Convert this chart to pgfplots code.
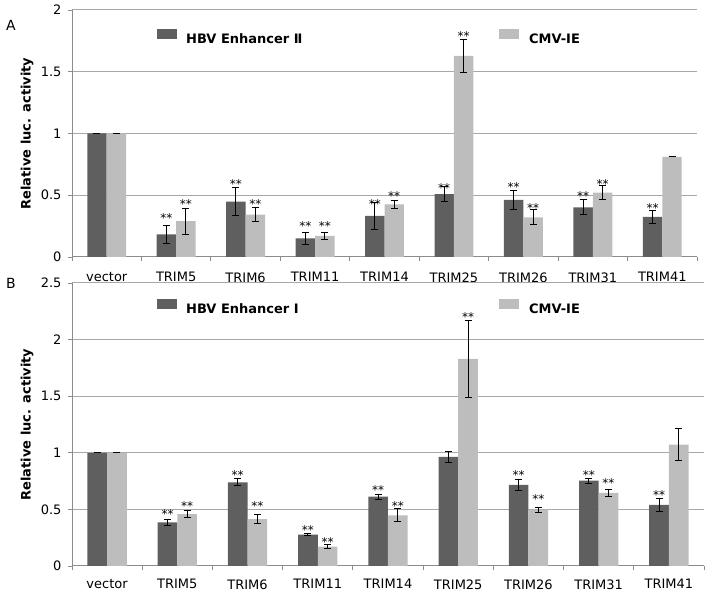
\documentclass[border=0pt]{standalone}
\usepackage{pgfplots}
\usepackage{pgfplotstable}
\pgfplotsset{compat=1.18}
\usepackage{fontspec}
\setmainfont{DejaVu Sans}
\definecolor{darkbar}{RGB}{95,95,95}
\definecolor{lightbar}{RGB}{189,189,189}
\definecolor{gridc}{RGB}{168,168,168}
\definecolor{axisc}{RGB}{140,140,140}

\pgfplotstableread{
x d de l le
0 1 0 1 0
1 0.184 0.074 0.290 0.105
2 0.448 0.116 0.343 0.054
3 0.151 0.046 0.170 0.027
4 0.332 0.109 0.427 0.032
5 0.510 0.062 1.628 0.136
6 0.462 0.075 0.321 0.061
7 0.402 0.061 0.521 0.057
8 0.324 0.049 0.810 0
}\tableA

\pgfplotstableread{
x d de l le
0 1 0 1 0
1 0.386 0.025 0.459 0.034
2 0.739 0.031 0.415 0.037
3 0.277 0.009 0.171 0.015
4 0.612 0.021 0.448 0.056
5 0.963 0.050 1.829 0.342
6 0.716 0.049 0.498 0.022
7 0.754 0.021 0.645 0.034
8 0.539 0.054 1.072 0.141
}\tableB

\pgfplotsset{
  trimaxis/.style={
    scale only axis,
    xmin=-0.5, xmax=8.5, ymin=0,
    axis x line*=bottom, axis y line*=left,
    axis line style={axisc, line width=1pt},
    xtick={-0.5,0.5,...,8.5},
    x tick label as interval,
    xticklabels={vector,TRIM5,TRIM6,TRIM11,TRIM14,TRIM25,TRIM26,TRIM31,TRIM41},
    ymajorgrids, grid style={gridc, line width=1pt},
    tick style={axisc, line width=0.8pt},
    tick align=outside, major tick length=4pt,
    ticklabel style={font=\fontsize{13}{15}\selectfont},
    x tick label style={inner sep=1pt, yshift=-10.3pt},
    y tick label style={xshift=-3pt},
    ylabel={Relative luc. activity},
    legend columns=2,
    legend style={draw=none, fill=none, inner sep=0pt, anchor=west,
      font=\bfseries\fontsize{13}{15}\selectfont, nodes={inner sep=0pt},
      /tikz/every even column/.style={column sep=0pt}},
    legend cell align=left,
  },
  darkbars/.style={ybar, bar width=0.28, bar shift=-0.14, fill=darkbar, draw=none,
    legend image code/.code={\fill[darkbar] (0pt,-0.3pt) rectangle (20pt,9.7pt);}},
  lightbars/.style={ybar, bar width=0.28, bar shift=0.14, fill=lightbar, draw=none,
    legend image code/.code={\fill[lightbar] (0pt,-0.3pt) rectangle (20pt,9.7pt);}},
  errs/.style={draw=none, mark=none, forget plot,
    error bars/.cd, y dir=both, y explicit,
    error bar style={draw=black, line width=1pt},
    error mark options={rotate=90, draw=black, mark size=3.5pt, line width=1pt}},
  stars/.style={only marks, forget plot, black, mark=text,
    text mark={\fontsize{12}{12}\selectfont **}},
}

\begin{document}
\begin{tikzpicture}
\useasboundingbox (0,0) rectangle (709pt,591pt);

\begin{axis}[trimaxis, at={(72pt,334pt)}, anchor=south west,
  width=625pt, height=247pt, ymax=2,
  ytick={0,0.5,1,1.5,2}, yticklabels={0,0.5,1,1.5,2},
  every axis y label/.style={at={(axis description cs:-0.072,0.5)}, rotate=90, anchor=center, font=\bfseries\fontsize{13}{15}\selectfont},
  legend style={at={(axis description cs:0.136,0.8907)}}]
\addplot[darkbars] table[x=x, y=d] {\tableA};
\addlegendentry{\hspace{9pt}\makebox[313pt][l]{HBV Enhancer Ⅱ}}
\addplot[lightbars] table[x=x, y=l] {\tableA};
\addlegendentry{\hspace{10pt}CMV-IE}
\addplot[errs] table[x expr=\thisrow{x}-0.14, y=d, y error=de] {\tableA};
\addplot[errs] table[x expr=\thisrow{x}+0.14, y=l, y error=le] {\tableA};
\addplot[stars] coordinates {(0.86,0.312) (1.86,0.590) (2.86,0.247) (3.86,0.428) (4.86,0.557) (5.86,0.563) (6.86,0.496) (7.86,0.395)};
\addplot[stars] coordinates {(1.14,0.428) (2.14,0.428) (3.14,0.247) (4.14,0.496) (5.14,1.791) (6.14,0.395) (7.14,0.590)};
\end{axis}

\begin{axis}[trimaxis, at={(72pt,25pt)}, anchor=south west,
  width=632pt, height=283pt, ymax=2.5,
  ytick={0,0.5,1,1.5,2,2.5}, yticklabels={0,0.5,1,1.5,2,2.5},
  x tick label style={yshift=2pt},
  every axis y label/.style={at={(axis description cs:-0.0712,0.5)}, rotate=90, anchor=center, font=\bfseries\fontsize{13}{15}\selectfont},
  legend style={at={(axis description cs:0.1345,0.915)}}]
\addplot[darkbars] table[x=x, y=d] {\tableB};
\addlegendentry{\hspace{9pt}\makebox[313pt][l]{HBV Enhancer Ⅰ}}
\addplot[lightbars] table[x=x, y=l] {\tableB};
\addlegendentry{\hspace{10pt}CMV-IE}
\addplot[errs] table[x expr=\thisrow{x}-0.14, y=d, y error=de] {\tableB};
\addplot[errs] table[x expr=\thisrow{x}+0.14, y=l, y error=le] {\tableB};
\addplot[stars] coordinates {(0.86,0.460) (1.86,0.803) (2.86,0.317) (3.86,0.671) (5.86,0.803) (6.86,0.803) (7.86,0.630)};
\addplot[stars] coordinates {(1.14,0.529) (2.14,0.533) (3.14,0.215) (4.14,0.533) (5.14,2.196) (6.14,0.595) (7.14,0.736)};
\end{axis}

\node[font=\fontsize{14}{16}\selectfont] at (11pt,566pt) {A};
\node[font=\fontsize{14}{16}\selectfont] at (11pt,308pt) {B};
\end{tikzpicture}
\end{document}
